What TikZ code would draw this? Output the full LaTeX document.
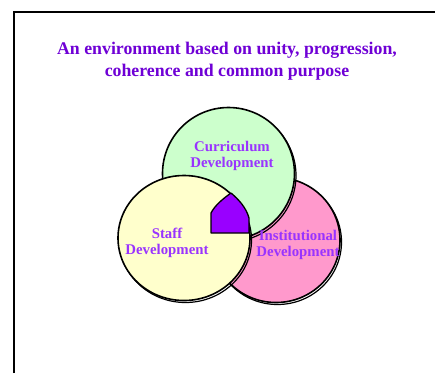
\documentclass[tikz,border=0pt]{standalone}
\usepackage{fontspec}
\setmainfont{Liberation Serif}
\definecolor{titlecol}{HTML}{6F00D6}
\definecolor{labcol}{HTML}{9933FF}
\definecolor{cgreen}{HTML}{CCFFCC}
\definecolor{cyellow}{HTML}{FFFFCC}
\definecolor{cpink}{HTML}{FF99CC}
\definecolor{wedge}{HTML}{9900FF}
\begin{document}
\begin{tikzpicture}[x=1pt,y=-1pt,
  ring/.style={draw=black,line width=1.6pt},
  shadowring/.style={draw=black,line width=1.2pt},
  lab/.style={text=labcol,font=\bfseries\fontsize{14.8}{16}\selectfont,align=center,inner sep=0pt},
  ttl/.style={text=titlecol,font=\bfseries\fontsize{17.8}{22}\selectfont,align=center,inner sep=0pt}]
\useasboundingbox (0,0) rectangle (435,373);
\fill[white] (0,0) rectangle (435,373);
\draw[line width=2pt] (14,373) -- (14,12) -- (436,12);
\node[ttl] (title) at (227,61) {An environment based on unity, progression,\\coherence and common purpose};
% pink
\draw[shadowring] (277.5,242) circle [x radius=64, y radius=62.5];
\draw[ring,fill=cpink] (276,240) circle [x radius=64, y radius=62.5];
% green
\draw[shadowring] (230,175.5) circle [radius=66];
\draw[ring,fill=cgreen] (228.5,173.5) circle [radius=66];
% yellow
\draw[shadowring] (185.5,240) circle [x radius=66, y radius=62.5];
\draw[ring,fill=cyellow] (184,238) circle [x radius=66, y radius=62.5];
% wedge
\draw[line width=1.3pt,fill=wedge,line join=round] (211,233) -- (211,213)
  .. controls (215,205) and (224,198) .. (231,193)
  .. controls (238,199) and (246,207) .. (249,218) -- (249,233) -- cycle;
\node[lab] (cur) at (232,156) {Curriculum\\Development};
\node[lab] (staff) at (167,243) {Staff\\Development};
\node[lab] (inst) at (298,245) {Institutional\\Development};
\end{tikzpicture}
\end{document}
